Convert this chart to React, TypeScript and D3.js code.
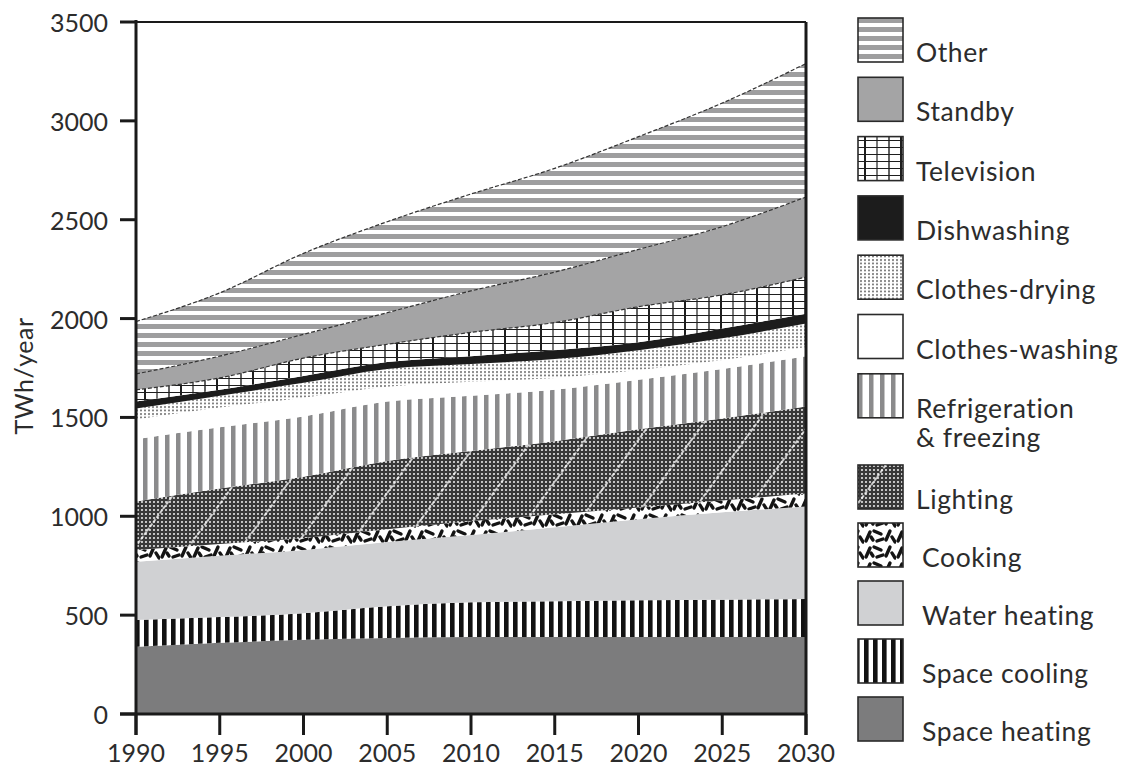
import React from "react";
import * as d3 from "d3";

const years = [1990, 1995, 2000, 2005, 2010, 2015, 2020, 2025, 2030];
const spaceHeating = [340, 360, 375, 385, 390, 390, 390, 390, 390];
const spaceCooling = [135, 130, 135, 160, 175, 180, 185, 188, 192];
const waterHeating = [295, 310, 320, 325, 340, 375, 410, 442, 468];
const cooking = [60, 60, 60, 65, 70, 65, 60, 60, 65];
const lighting = [245, 280, 310, 345, 355, 370, 395, 415, 440];
const refrigeration = [315, 310, 305, 300, 280, 260, 250, 250, 255];
const clothesWashing = [100, 100, 95, 75, 70, 60, 50, 45, 46];
const clothesDrying = [55, 60, 75, 90, 90, 95, 100, 110, 119];
const dishwashing = [35, 30, 35, 35, 40, 45, 40, 50, 50];
const television = [60, 60, 90, 90, 120, 140, 180, 170, 185];
const standby = [80, 110, 120, 160, 210, 255, 290, 345, 405];
const other = [265, 320, 410, 460, 490, 525, 570, 625, 675];

const seriesKeys = [
  "Space heating",
  "Space cooling",
  "Water heating",
  "Cooking",
  "Lighting",
  "Refrigeration & freezing",
  "Clothes-washing",
  "Clothes-drying",
  "Dishwashing",
  "Television",
  "Standby",
  "Other",
];
const seriesValues = [
  spaceHeating,
  spaceCooling,
  waterHeating,
  cooking,
  lighting,
  refrigeration,
  clothesWashing,
  clothesDrying,
  dishwashing,
  television,
  standby,
  other,
];
const yTicks = [0, 500, 1000, 1500, 2000, 2500, 3000, 3500];
const xTicks = years;
const yTitle = "TWh/year";

// legend order top to bottom
const legendItems = [
  { key: "Other", lines: ["Other"] },
  { key: "Standby", lines: ["Standby"] },
  { key: "Television", lines: ["Television"] },
  { key: "Dishwashing", lines: ["Dishwashing"] },
  { key: "Clothes-drying", lines: ["Clothes-drying"] },
  { key: "Clothes-washing", lines: ["Clothes-washing"] },
  { key: "Refrigeration & freezing", lines: ["Refrigeration", "& freezing"] },
  { key: "Lighting", lines: ["Lighting"] },
  { key: "Cooking", lines: ["Cooking"] },
  { key: "Water heating", lines: ["Water heating"] },
  { key: "Space cooling", lines: ["Space cooling"] },
  { key: "Space heating", lines: ["Space heating"] },
];

const fills: Record<string, string> = {
  "Space heating": "#7c7c7d",
  "Space cooling": "url(#pCooling)",
  "Water heating": "#d0d1d3",
  Cooking: "url(#pCooking)",
  Lighting: "url(#pLighting)",
  "Refrigeration & freezing": "url(#pRefrig)",
  "Clothes-washing": "#ffffff",
  "Clothes-drying": "url(#pDrying)",
  Dishwashing: "#1c1c1c",
  Television: "url(#pTV)",
  Standby: "#a4a4a5",
  Other: "url(#pOther)",
};

const FONT = "Lato, 'Open Sans', sans-serif";
const TXT = "#2c2c2c";

export default function App() {
  const rows = years.map((yr, i) => {
    const r: Record<string, number> = { year: yr };
    seriesKeys.forEach((k, j) => (r[k] = seriesValues[j][i]));
    return r;
  });
  const stacked = d3.stack<Record<string, number>>().keys(seriesKeys)(rows);

  const x = d3.scaleLinear().domain([1990, 2030]).range([136, 806]);
  const y = d3.scaleLinear().domain([0, 3500]).range([714, 22]);

  const area = d3
    .area<d3.SeriesPoint<Record<string, number>>>()
    .x((d) => x(d.data.year))
    .y0((d) => y(d[0]))
    .y1((d) => y(d[1]))
    .curve(d3.curveMonotoneX);
  const topLine = d3
    .line<d3.SeriesPoint<Record<string, number>>>()
    .x((d) => x(d.data.year))
    .y((d) => y(d[1]))
    .curve(d3.curveMonotoneX);

  const legendTop = (i: number) => (i < 7 ? 18 + i * 59.3 : 465 + (i - 7) * 58);

  return (
    <svg
      width={1129}
      height={773}
      style={{ position: "absolute", left: 0, top: 0, background: "#fff" }}
      fontFamily={FONT}
    >
      <defs>
        <pattern id="pOther" patternUnits="userSpaceOnUse" width={10} height={9}>
          <rect width={10} height={9} fill="#ffffff" />
          <rect y={0} width={10} height={5} fill="#9e9e9f" />
        </pattern>
        <pattern id="pTV" patternUnits="userSpaceOnUse" width={36} height={7}>
          <rect width={36} height={7} fill="#ffffff" />
          <line x1={0} y1={0.5} x2={36} y2={0.5} stroke="#1e1e1e" strokeWidth={1} />
          <line x1={1} y1={0} x2={1} y2={7} stroke="#1e1e1e" strokeWidth={2} />
          <line x1={13} y1={0} x2={13} y2={7} stroke="#1e1e1e" strokeWidth={1.2} />
          <line x1={25} y1={0} x2={25} y2={7} stroke="#1e1e1e" strokeWidth={1.4} />
        </pattern>
        <pattern id="pDrying" patternUnits="userSpaceOnUse" width={4} height={3.5}>
          <rect width={4} height={3.5} fill="#ffffff" />
          <circle cx={1} cy={1} r={0.95} fill="#5e5e5e" />
        </pattern>
        <pattern id="pRefrig" patternUnits="userSpaceOnUse" width={11} height={10}>
          <rect width={11} height={10} fill="#ffffff" />
          <rect x={0} width={4.5} height={10} fill="#8b8b8c" />
        </pattern>
        <pattern id="pLighting" patternUnits="userSpaceOnUse" width={4} height={4}>
          <rect width={4} height={4} fill="#383838" />
          <circle cx={2} cy={2} r={1.05} fill="#e8e8e8" />
        </pattern>
        <pattern
          id="pDiag"
          patternUnits="userSpaceOnUse"
          width={43}
          height={43}
          patternTransform="rotate(36)"
        >
          <line x1={1} y1={0} x2={1} y2={43} stroke="#ffffff" strokeWidth={1.5} strokeDasharray="4 1.5" />
        </pattern>
        <pattern id="pCooking" patternUnits="userSpaceOnUse" width={32} height={16}>
          <rect width={32} height={16} fill="#ffffff" />
          <g stroke="#141414" strokeWidth={3.4} strokeLinecap="round" fill="none">
            <path d="M2,13 L6,4" />
            <path d="M10,3 L17,6" />
            <path d="M13,13 L19,11" />
            <path d="M22,12 L26,3" />
            <path d="M28,9 L31,14" />
            <path d="M7,9 L9,12" />
          </g>
        </pattern>
        <pattern id="pCooling" patternUnits="userSpaceOnUse" width={9} height={10}>
          <rect width={9} height={10} fill="#ffffff" />
          <rect x={0} width={4.6} height={10} fill="#111111" />
        </pattern>
        <clipPath id="plotClip">
          <rect x={136} y={22} width={670} height={692} />
        </clipPath>
      </defs>

      {/* stacked areas */}
      <g clipPath="url(#plotClip)">
        {stacked.map((s) => (
          <path key={s.key} d={area(s) || ""} fill={fills[s.key]} />
        ))}
        {stacked
          .filter((s) => s.key === "Lighting")
          .map((s) => (
            <path key="diag" d={area(s) || ""} fill="url(#pDiag)" />
          ))}
        {stacked
          .filter((s) => s.key === "Other" || s.key === "Standby" || s.key === "Television")
          .map((s) => (
            <path
              key={"l" + s.key}
              d={topLine(s) || ""}
              fill="none"
              stroke="#333"
              strokeWidth={1.2}
              strokeDasharray="4 2"
            />
          ))}
      </g>

      {/* frame */}
      <line x1={120} y1={22} x2={806} y2={22} stroke="#1a1a1a" strokeWidth={2} />
      <line x1={806} y1={22} x2={806} y2={735} stroke="#1a1a1a" strokeWidth={3} />
      <line x1={136} y1={20} x2={136} y2={735} stroke="#1a1a1a" strokeWidth={3} />
      <line x1={120} y1={714} x2={806} y2={714} stroke="#1a1a1a" strokeWidth={3} />

      {/* y ticks */}
      {yTicks.map((t) => (
        <g key={"y" + t}>
          <line x1={120} y1={y(t)} x2={136} y2={y(t)} stroke="#1a1a1a" strokeWidth={3} />
          <text
            x={108}
            y={y(t)}
            textAnchor="end"
            dominantBaseline="central"
            fontSize={25}
            fill={TXT}
          >
            {t}
          </text>
        </g>
      ))}
      {/* x ticks */}
      {xTicks.map((t) => (
        <g key={"x" + t}>
          <line x1={x(t)} y1={714} x2={x(t)} y2={735} stroke="#1a1a1a" strokeWidth={3} />
          <text x={x(t)} y={762} textAnchor="middle" fontSize={25} fill={TXT}>
            {t}
          </text>
        </g>
      ))}
      <text
        transform="translate(33,376) rotate(-90)"
        textAnchor="middle"
        fontSize={25}
        letterSpacing={0.5}
        fill={TXT}
      >
        {yTitle}
      </text>

      {/* legend */}
      {legendItems.map((it, i) => {
        const top = legendTop(i);
        const tx = i < 8 ? 916 : 922;
        return (
          <g key={"lg" + it.key}>
            <rect
              x={858}
              y={top}
              width={45}
              height={44}
              fill={fills[it.key]}
              stroke="#2a2a2a"
              strokeWidth={1.6}
            />
            {it.key === "Lighting" && (
              <rect x={858} y={top} width={45} height={44} fill="url(#pDiag)" />
            )}
            {it.lines.map((ln, j) => (
              <text
                key={j}
                x={tx}
                y={top + 44 + j * 29}
                fontSize={26.5}
                letterSpacing={0.6}
                fill={TXT}
              >
                {ln}
              </text>
            ))}
          </g>
        );
      })}
    </svg>
  );
}
